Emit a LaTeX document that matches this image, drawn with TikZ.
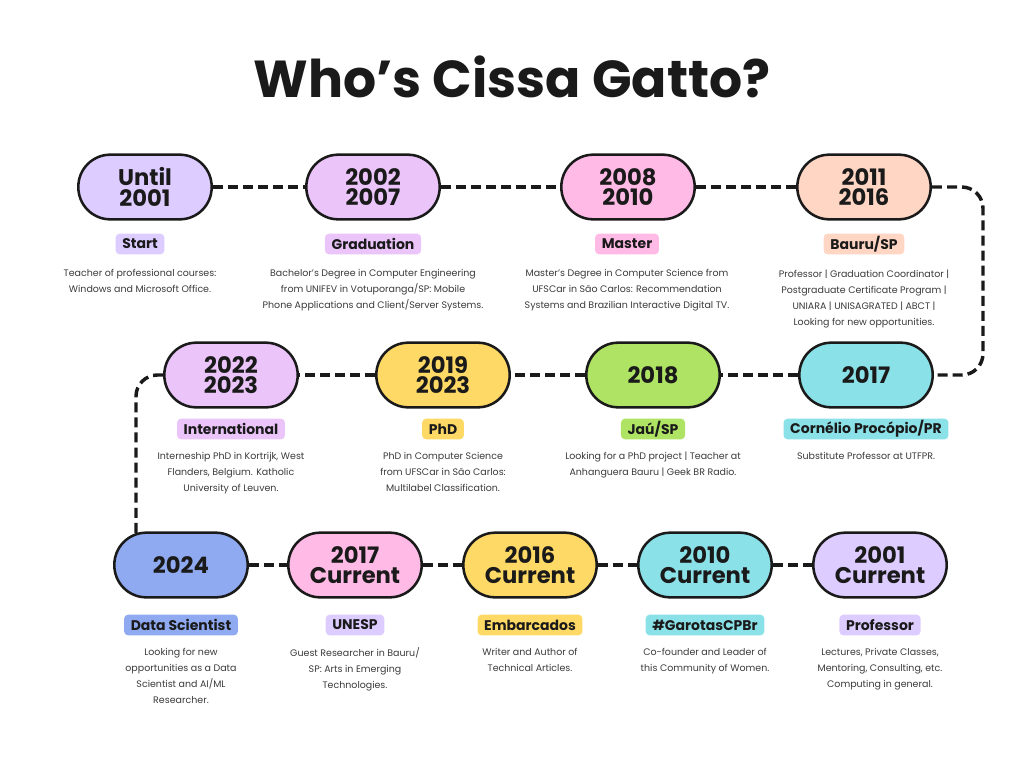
\documentclass[tikz,border=0pt]{standalone}
\usepackage{fontspec}
\setmainfont{Poppins}
\usetikzlibrary{positioning,backgrounds}
\definecolor{ink}{HTML}{1A1A1A}
\definecolor{txtgray}{HTML}{3A3A3A}
\definecolor{lavender}{HTML}{DDCCFF}
\definecolor{orchid}{HTML}{EBC4FA}
\definecolor{rose}{HTML}{FFBAE6}
\definecolor{peach}{HTML}{FFD6C4}
\definecolor{sun}{HTML}{FFD966}
\definecolor{lime}{HTML}{AEE363}
\definecolor{aqua}{HTML}{8AE1E8}
\definecolor{sky}{HTML}{8FAAF0}

\tikzset{
  pill/.style={draw=ink, line width=1.9pt, rounded corners=24pt, minimum width=100pt, minimum height=48.5pt,
    align=center, inner sep=0pt, text=ink, font=\fontsize{17}{15.5}\selectfont\bfseries},
  tag/.style={rounded corners=3pt, minimum height=15.5pt, inner xsep=5pt, inner ysep=0pt,
    text=ink, font=\fontsize{10.5}{12}\selectfont\bfseries},
  descr/.style={align=center, inner sep=0pt, text=txtgray, font=\fontsize{7.1}{12}\selectfont},
  link/.style={draw=ink, line width=2.6pt, dash pattern=on 7.5pt off 3.8pt},
}

\begin{document}
\begin{tikzpicture}[x=0.75pt, y=-0.75pt]
    \useasboundingbox (0,0) rectangle (1024,768);
    \node[text=ink, font=\fontsize{39}{46}\selectfont\bfseries] (title) at (512,77) {Who’s Cissa Gatto?};

    % first row
    \node[pill, fill=lavender] (p1) at (145,187) {Until\\2001};
    \node[pill, fill=orchid] (p2) at (373,187) {2002\\2007};
    \node[pill, fill=rose] (p3) at (628,187) {2008\\2010};
    \node[pill, fill=peach] (p4) at (864,187) {2011\\2016};
    \node[tag, fill=lavender] (t1) at (140,244) {Start};
    \node[tag, fill=orchid] (t2) at (373,244) {Graduation};
    \node[tag, fill=rose] (t3) at (627,244) {Master};
    \node[tag, fill=peach] (t4) at (864,244) {Bauru/SP};
    \node[descr, below=11pt of t1] (d1) {Teacher of professional courses:\\Windows and Microsoft Office.};
    \node[descr, below=11pt of t2] (d2) {Bachelor’s Degree in Computer Engineering\\from UNIFEV in Votuporanga/SP: Mobile\\Phone Applications and Client/Server Systems.};
    \node[descr, below=11pt of t3] (d3) {Master’s Degree in Computer Science from\\UFSCar in São Carlos: Recommendation\\Systems and Brazilian Interactive Digital TV.};
    \node[descr, below=11pt of t4] (d4) {Professor | Graduation Coordinator |\\Postgraduate Certificate Program |\\UNIARA | UNISAGRATED | ABCT |\\Looking for new opportunities.};

    % second row
    \node[pill, fill=aqua] (p5) at (866,375) {2017};
    \node[pill, fill=lime] (p6) at (653,375) {2018};
    \node[pill, fill=sun] (p7) at (443,375) {2019\\2023};
    \node[pill, fill=orchid] (p8) at (231,375) {2022\\2023};
    \node[tag, fill=aqua] (t5) at (866,429) {Cornélio Procópio/PR};
    \node[tag, fill=lime] (t6) at (653,429) {Jaú/SP};
    \node[tag, fill=sun] (t7) at (443,429) {PhD};
    \node[tag, fill=orchid] (t8) at (231,429) {International};
    \node[descr, below=9pt of t5] (d5) {Substitute Professor at UTFPR.};
    \node[descr, below=9pt of t6] (d6) {Looking for a PhD project | Teacher at\\Anhanguera Bauru | Geek BR Radio.};
    \node[descr, below=9pt of t7] (d7) {PhD in Computer Science\\from UFSCar in São Carlos:\\Multilabel Classification.};
    \node[descr, below=9pt of t8] (d8) {Interneship PhD in Kortrijk, West\\Flanders, Belgium. Katholic\\University of Leuven.};

    % third row
    \node[pill, fill=sky] (p9) at (181,565) {2024};
    \node[pill, fill=rose] (p10) at (355,565) {2017\\Current};
    \node[pill, fill=sun] (p11) at (530,565) {2016\\Current};
    \node[pill, fill=aqua] (p12) at (705,565) {2010\\Current};
    \node[pill, fill=lavender] (p13) at (880,565) {2001\\Current};
    \node[tag, fill=sky] (t9) at (181,625) {Data Scientist};
    \node[tag, fill=lavender] (t10) at (355,625) {UNESP};
    \node[tag, fill=sun] (t11) at (530,625) {Embarcados};
    \node[tag, fill=aqua] (t12) at (705,625) {\#GarotasCPBr};
    \node[tag, fill=lavender] (t13) at (880,625) {Professor};
    \node[descr, below=9pt of t9] (d9) {Looking for new\\opportunities as a Data\\Scientist and AI/ML\\Researcher.};
    \node[descr, below=9pt of t10] (d10) {Guest Researcher in Bauru/\\SP: Arts in Emerging\\Technologies.};
    \node[descr, below=9pt of t11] (d11) {Writer and Author of\\Technical Articles.};
    \node[descr, below=9pt of t12] (d12) {Co-founder and Leader of\\this Community of Women.};
    \node[descr, below=9pt of t13] (d13) {Lectures, Private Classes,\\Mentoring, Consulting, etc.\\Computing in general.};

    \coordinate (turnR) at (983,0);
    \coordinate (turnL) at (136,0);
    \begin{scope}[on background layer]
        \draw[link] (p1) -- (p2) -- (p3) -- (p4);
        \draw[link, rounded corners=16pt] (p4.east) -- (p4.east -| turnR) -- (p5.east -| turnR) -- (p5.east);
        \draw[link] (p5) -- (p6) -- (p7) -- (p8);
        \draw[link, rounded corners=16pt] (p8.west) -- (p8.west -| turnL) -- (turnL |- p9.center);
        \draw[link] (p9) -- (p10) -- (p11) -- (p12) -- (p13);
    \end{scope}
\end{tikzpicture}
\end{document}
